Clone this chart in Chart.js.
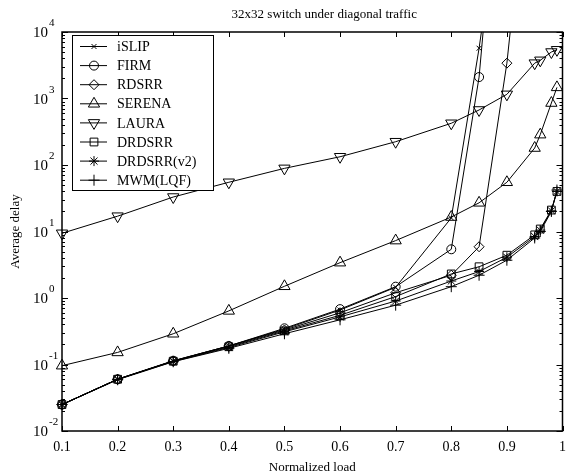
<!DOCTYPE html>
<html>
<head>
<meta charset="utf-8">
<script src="https://cdn.jsdelivr.net/npm/chart.js@4.4.1/dist/chart.umd.min.js"></script>
<style>
    html, body { margin: 0; padding: 0; background: #fff; }
</style>
</head>
<body>
<canvas id="chart" width="570" height="476"></canvas>
<script>
// normalized load (x) and average delay per scheduler (y)
const loads = [0.1, 0.2, 0.3, 0.4, 0.5, 0.6, 0.7, 0.8, 0.85, 0.9, 0.95, 0.96, 0.98, 0.99];

const islip    = [0.025, 0.06, 0.113, 0.19, 0.34, 0.66, 1.45, 16, 5700, 5e6, null, null, null, null];
const firm     = [0.025, 0.06, 0.114, 0.19, 0.35, 0.68, 1.48, 5.4, 2100, 1e8, null, null, null, null];
const rdsrr    = [0.025, 0.06, 0.113, 0.19, 0.33, 0.6, 1.2, 2.2, 5.9, 3400, 3e7, null, null, null];
const serena   = [0.096, 0.152, 0.29, 0.64, 1.5, 3.4, 7.3, 16.5, 27, 55, 180, 286, 855, 1470];
const laura    = [9.4, 17, 33, 55, 89, 133, 224, 424, 672, 1155, 3400, 3750, 5000, 5400];
const drdsrr   = [0.025, 0.06, 0.112, 0.185, 0.32, 0.55, 1.05, 2.3, 2.95, 4.4, 8.9, 10.9, 21, 40];
const drdsrrV2 = [0.025, 0.06, 0.111, 0.18, 0.31, 0.52, 0.9, 1.8, 2.5, 4.1, 8.4, 10.5, 20.5, 40];
const mwm      = [0.025, 0.059, 0.11, 0.175, 0.29, 0.47, 0.78, 1.48, 2.2, 3.7, 8.0, 10, 20, 42];

const seriesLabels = ['iSLIP', 'FIRM', 'RDSRR', 'SERENA', 'LAURA', 'DRDSRR', 'DRDSRR(v2)', 'MWM(LQF)'];
const seriesValues = [islip, firm, rdsrr, serena, laura, drdsrr, drdsrrV2, mwm];

const xTicks = [0.1, 0.2, 0.3, 0.4, 0.5, 0.6, 0.7, 0.8, 0.9, 1];
const xTickLabels = ['0.1', '0.2', '0.3', '0.4', '0.5', '0.6', '0.7', '0.8', '0.9', '1'];
const yExponents = [-2, -1, 0, 1, 2, 3, 4];

// marker look per series (MATLAB-ish hollow markers)
const markers = [
    { style: 'crossRot', radius: 3.5, rotation: 0 },
    { style: 'circle', radius: 4.5, rotation: 0 },
    { style: 'rectRot', radius: 5, rotation: 0 },
    { style: 'triangle', radius: 6.5, rotation: 0 },
    { style: 'triangle', radius: 6.5, rotation: 180 },
    { style: 'rect', radius: 5.5, rotation: 0 },
    { style: 'star', radius: 5, rotation: 0 },
    { style: 'cross', radius: 5.5, rotation: 0 }
];

const FONT = '"Liberation Serif", "Times New Roman", serif';

function toPoints(values) {
    const pts = [];
    values.forEach((v, i) => {
        if (v !== null) {
            pts.push({ x: loads[i], y: v });
        }
    });
    return pts;
}

const datasets = seriesLabels.map((label, i) => ({
    label: label,
    data: toPoints(seriesValues[i]),
    borderColor: '#000',
    borderWidth: 1,
    backgroundColor: 'rgba(0,0,0,0)',
    pointStyle: markers[i].style,
    pointRadius: markers[i].radius,
    pointRotation: markers[i].rotation,
    pointBorderColor: '#000',
    pointBorderWidth: 1,
    pointBackgroundColor: 'rgba(0,0,0,0)',
    tension: 0,
    clip: { left: 10, right: 10, top: 0, bottom: 10 }
}));

function strokeLine(ctx, x1, y1, x2, y2) {
    ctx.beginPath();
    ctx.moveTo(x1, y1);
    ctx.lineTo(x2, y2);
    ctx.stroke();
}

// frame, inward ticks, tick labels, titles
const axesPlugin = {
    id: 'matlabAxes',
    afterDatasetsDraw(chart) {
        const ctx = chart.ctx;
        const a = chart.chartArea;
        const x = chart.scales.x;
        const y = chart.scales.y;

        ctx.save();
        ctx.strokeStyle = '#000';
        ctx.lineWidth = 1;

        xTicks.forEach(v => {
            const px = Math.round(x.getPixelForValue(v)) + 0.5;
            strokeLine(ctx, px, a.bottom, px, a.bottom - 5);
            strokeLine(ctx, px, a.top, px, a.top + 5);
        });

        yExponents.forEach(e => {
            for (let m = 1; m <= 9; m++) {
                if (e === 4 && m > 1) break;
                const py = Math.round(y.getPixelForValue(m * Math.pow(10, e))) + 0.5;
                const len = m === 1 ? 6 : 3;
                strokeLine(ctx, a.left, py, a.left + len, py);
                strokeLine(ctx, a.right, py, a.right - len, py);
            }
        });

        ctx.lineWidth = 1.5;
        ctx.strokeRect(a.left, a.top, a.right - a.left, a.bottom - a.top);

        ctx.fillStyle = '#000';

        // x tick labels
        ctx.font = '14px ' + FONT;
        ctx.textAlign = 'center';
        ctx.textBaseline = 'alphabetic';
        xTicks.forEach((v, i) => {
            ctx.fillText(xTickLabels[i], x.getPixelForValue(v), a.bottom + 20);
        });

        // y tick labels as 10 with a raised exponent
        yExponents.forEach(e => {
            const py = y.getPixelForValue(Math.pow(10, e));
            ctx.font = '15px ' + FONT;
            ctx.textAlign = 'right';
            ctx.fillText('10', a.left - 14, py + 5);
            ctx.font = '11px ' + FONT;
            ctx.textAlign = 'left';
            ctx.fillText(String(e), a.left - 13, py - 6);
        });

        // titles
        const cx = (a.left + a.right) / 2;
        ctx.font = '13px ' + FONT;
        ctx.textAlign = 'center';
        ctx.fillText('32x32 switch under diagonal traffic', cx + 12, 18);
        ctx.fillText('Normalized load', cx, 471);

        ctx.translate(19, (a.top + a.bottom) / 2);
        ctx.rotate(-Math.PI / 2);
        ctx.fillText('Average delay', 0, 0);

        ctx.restore();
    }
};

// boxed legend in the upper-left corner of the plot
const legendPlugin = {
    id: 'boxLegend',
    afterDraw(chart) {
        const ctx = chart.ctx;
        const a = chart.chartArea;
        const left = a.left + 10;
        const top = a.top + 3;
        const w = 141;
        const h = 155;
        const drawPoint = Chart.helpers && Chart.helpers.drawPoint;

        ctx.save();
        ctx.fillStyle = '#fff';
        ctx.fillRect(left, top, w, h);
        ctx.strokeStyle = '#000';
        ctx.lineWidth = 1;
        ctx.strokeRect(left + 0.5, top + 0.5, w, h);

        chart.data.datasets.forEach((ds, i) => {
            const ry = top + 11.5 + i * 19.1;
            ctx.strokeStyle = '#000';
            ctx.lineWidth = 1;
            strokeLine(ctx, left + 8, ry, left + 35, ry);
            if (drawPoint) {
                ctx.fillStyle = 'rgba(0,0,0,0)';
                drawPoint(ctx, {
                    pointStyle: ds.pointStyle,
                    radius: ds.pointRadius,
                    rotation: ds.pointRotation,
                    borderWidth: 1
                }, left + 22, ry);
            }
            ctx.fillStyle = '#000';
            ctx.font = '14px ' + FONT;
            ctx.textAlign = 'left';
            ctx.textBaseline = 'middle';
            ctx.fillText(ds.label, left + 45, ry + 1);
        });

        ctx.restore();
    }
};

new Chart(document.getElementById('chart'), {
    type: 'line',
    data: { datasets: datasets },
    options: {
        responsive: false,
        animation: false,
        layout: { padding: { left: 62, right: 1, top: 32, bottom: 45 } },
        scales: {
            x: { type: 'linear', min: 0.1, max: 1, display: false },
            y: { type: 'logarithmic', min: 1e-2, max: 1e4, display: false }
        },
        plugins: {
            legend: { display: false },
            tooltip: { enabled: false }
        }
    },
    plugins: [axesPlugin, legendPlugin]
});
</script>
</body>
</html>
